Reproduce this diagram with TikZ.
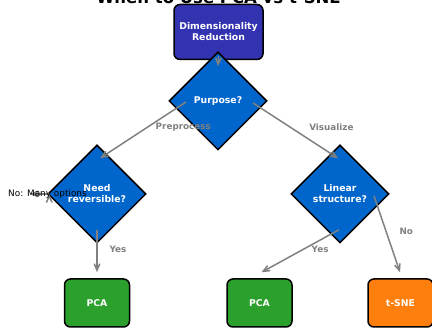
\documentclass[tikz,border=0pt]{standalone}
\usepackage{fontspec}
\setmainfont{DejaVu Sans}
\usepackage{tikz}
\usetikzlibrary{shapes.geometric,arrows}

\definecolor{dimblue}{HTML}{3333B2}
\definecolor{qblue}{HTML}{0066CC}
\definecolor{pcagreen}{HTML}{2CA02C}
\definecolor{tsneorange}{HTML}{FF7F0E}

\tikzset{
  box/.style={draw, line width=1.5pt, rounded corners=6pt, text=white, align=center,
    font=\bfseries\fontsize{9.3}{11}\selectfont, minimum height=48pt, minimum width=65pt},
  decision/.style={diamond, draw, line width=1.5pt, fill=qblue, text=white, align=center,
    font=\bfseries\fontsize{9.3}{11}\selectfont, minimum width=98pt, minimum height=98pt, inner sep=0pt},
  link/.style={->, >=angle 45, draw=gray, line width=1.5pt},
  lbl/.style={text=gray, font=\bfseries\fontsize{8.8}{10}\selectfont}
}

\begin{document}
\begin{tikzpicture}[x=1pt, y=1pt]
 \useasboundingbox (0,0) rectangle (432,328);
 \node[anchor=base, font=\bfseries\fontsize{16.5}{20}\selectfont] (title) at (218.5,324) {When to Use PCA vs t-SNE};

 \node[box, fill=dimblue, minimum width=89pt, minimum height=55pt] (dimred) at (218.5,296) {Dimensionality\\Reduction};
 \node[decision] (purpose) at (218,227) {Purpose?};
 \node[decision] (reversible) at (97,134) {Need\\reversible?};
 \node[decision] (linear) at (340,134) {Linear\\structure?};
 \node[box, fill=pcagreen] (pcaA) at (97,25) {PCA};
 \node[box, fill=pcagreen] (pcaB) at (259.5,25) {PCA};
 \node[box, fill=tsneorange] (tsne) at (400.5,25) {t-SNE};

 \coordinate (dimred-s) at ([yshift=4pt]dimred.south);
 \coordinate (purpose-n) at ([yshift=-15pt]purpose.north);
 \coordinate (purpose-w) at ([xshift=-32pt,yshift=-1pt]purpose.center);
 \coordinate (purpose-e) at ([xshift=35pt,yshift=-2pt]purpose.center);
 \coordinate (reversible-n) at ([xshift=3pt,yshift=-14pt]reversible.north);
 \coordinate (reversible-w) at ([xshift=2pt]reversible.west);
 \coordinate (reversible-s) at ([yshift=14pt]reversible.south);
 \coordinate (linear-n) at ([xshift=-2pt,yshift=-14pt]linear.north);
 \coordinate (linear-s) at ([xshift=-1pt,yshift=14pt]linear.south);
 \coordinate (linear-e) at ([xshift=34pt,yshift=-2pt]linear.center);
 \coordinate (options) at (30,134);

 \path[link]
  (dimred-s) edge (purpose-n)
  (purpose-w) edge node[lbl, pos=0.45, xshift=36pt] {Preprocess} (reversible-n)
  (purpose-e) edge node[lbl, pos=0.44, xshift=41pt] {Visualize} (linear-n)
  (reversible-s) edge node[lbl, pos=0.45, xshift=21pt] {Yes} ([yshift=6pt]pcaA.north)
  (linear-s) edge node[lbl, pos=0.45, xshift=16pt] {Yes} ([xshift=2pt,yshift=6pt]pcaB.north)
  (linear-e) edge node[lbl, pos=0.47, xshift=20pt] {No} ([xshift=-0.5pt,yshift=6pt]tsne.north)
  (reversible-w) edge (options);

 \node[font=\fontsize{8.9}{10}\selectfont] (manyopts) at (47.5,134) {No: Many options};
\end{tikzpicture}
\end{document}
